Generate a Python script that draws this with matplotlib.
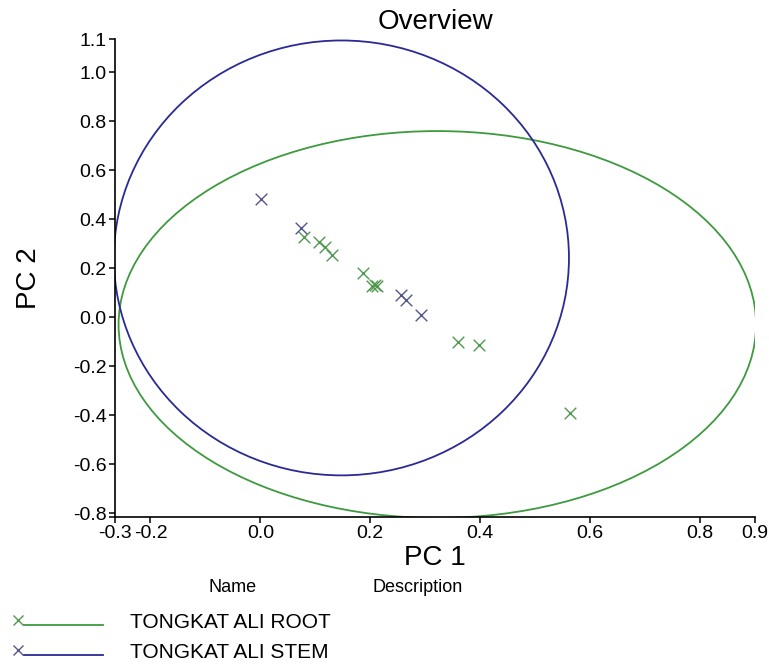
import matplotlib
matplotlib.use("Agg")
import matplotlib.pyplot as plt
from matplotlib.patches import Ellipse
from matplotlib.lines import Line2D

plt.rcParams['font.family'] = ['Liberation Sans', 'DejaVu Sans']

# scores
root_pc1 = [0.079, 0.106, 0.117, 0.130, 0.187, 0.204, 0.212, 0.208, 0.359, 0.398, 0.563]
root_pc2 = [0.326, 0.305, 0.285, 0.255, 0.180, 0.126, 0.126, 0.130, -0.100, -0.114, -0.393]
stem_pc1 = [0.002, 0.074, 0.255, 0.265, 0.292]
stem_pc2 = [0.481, 0.366, 0.092, 0.072, 0.008]

# confidence ellipses: centre x, centre y, width, height
root_ellipse = [0.322, -0.030, 1.160, 1.580]
stem_ellipse = [0.1475, 0.242, 0.828, 1.776]

groups = ["TONGKAT ALI ROOT", "TONGKAT ALI STEM"]
colors = ["#3E9A3E", "#2A2A96"]
marker_colors = ["#4F9A4F", "#55558F"]

xlim = (-0.2645, 0.9)
ylim = (-0.816, 1.136)
xticks = [xlim[0], -0.2, 0.0, 0.2, 0.4, 0.6, 0.8, 0.9]
yticks = [ylim[0], -0.8, -0.6, -0.4, -0.2, 0.0, 0.2, 0.4, 0.6, 0.8, 1.0, ylim[1]]

fig = plt.figure(figsize=(7.69, 6.65), dpi=100)
ax = fig.add_axes([115 / 769, 1 - 517 / 665, 640 / 769, 478 / 665])

ax.scatter(root_pc1, root_pc2, marker='x', s=70, linewidths=1.0, color=marker_colors[0], zorder=3)
ax.scatter(stem_pc1, stem_pc2, marker='x', s=70, linewidths=1.0, color=marker_colors[1], zorder=3)

for params, c in [(root_ellipse, colors[0]), (stem_ellipse, colors[1])]:
    e = Ellipse((params[0], params[1]), params[2], params[3], fill=False, edgecolor=c, linewidth=1.3)
    ax.add_patch(e)

ax.set_xlim(*xlim)
ax.set_ylim(*ylim)
ax.set_xticks(xticks)
ax.set_xticklabels([f"{v:.1f}" for v in xticks])
ax.set_yticks(yticks)
ylabels = [f"{v:.1f}" for v in yticks]
ylabels[0] = ""
ax.set_yticklabels(ylabels)

for s in ['top', 'right']:
    ax.spines[s].set_visible(False)
for s in ['left', 'bottom']:
    ax.spines[s].set_linewidth(1.2)
ax.tick_params(direction='out', length=4, width=1.1, labelsize=14, pad=2)

ax.set_title("Overview", fontsize=20, pad=7)
ax.set_xlabel("PC 1", fontsize=20, labelpad=2)
ax.set_ylabel("PC 2", fontsize=20, labelpad=22)

# legend table underneath
fig.text(233 / 769, 1 - 587 / 665, "Name", fontsize=13, ha='center', va='center')
fig.text(418 / 769, 1 - 587 / 665, "Description", fontsize=13, ha='center', va='center')
rows_y = [623, 653]
for name, c, mc, py in zip(groups, colors, marker_colors, rows_y):
    yf = 1 - (py + 2) / 665
    fig.add_artist(Line2D([24 / 769, 103 / 769], [yf, yf], color=c, linewidth=1.3))
    fig.add_artist(Line2D([18 / 769], [1 - (py - 3) / 665], marker='x', markersize=7,
                          markeredgewidth=1.0, color=mc, linestyle='none'))
    fig.text(130 / 769, 1 - py / 665, name, fontsize=15, ha='left', va='center')

fig.savefig("out.png", dpi=100)
